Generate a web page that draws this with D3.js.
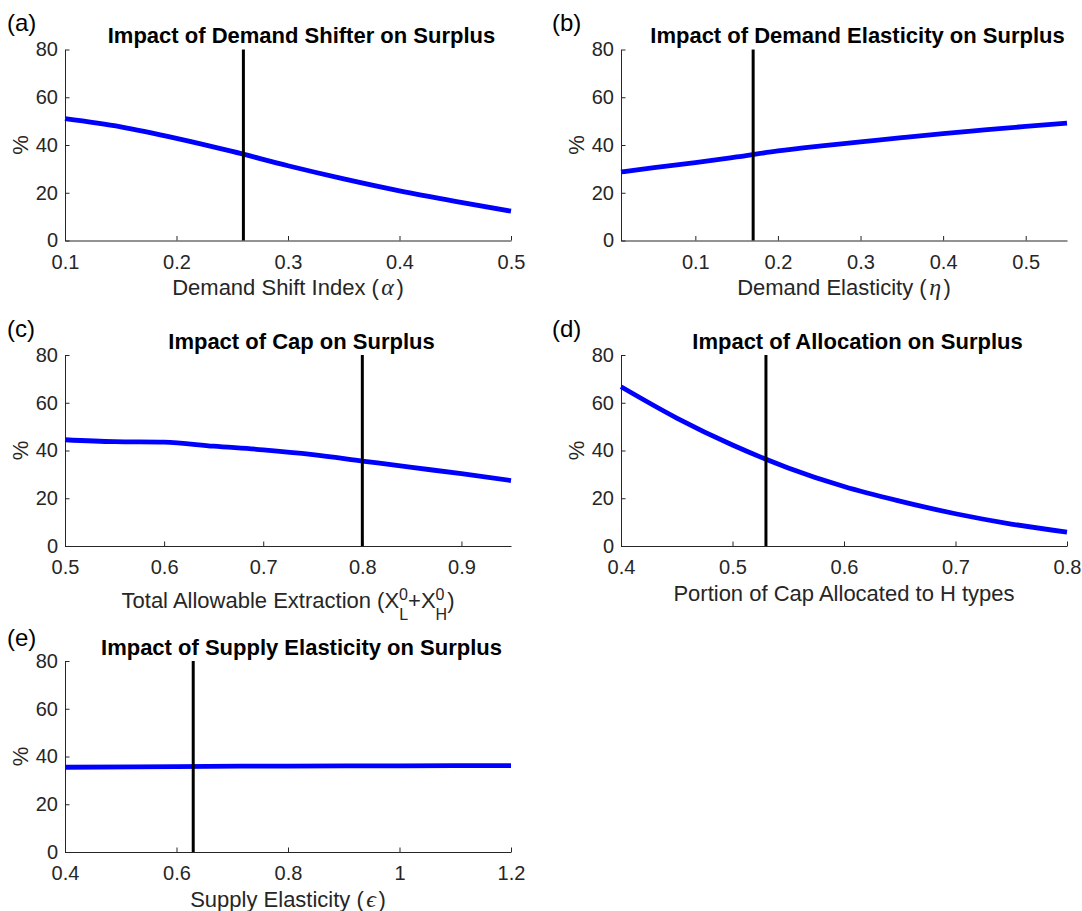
<!DOCTYPE html>
<html lang="en">
<head>
<meta charset="UTF-8">
<title>Impact on Surplus</title>
<script src="https://d3js.org/d3.v7.min.js"></script>
<style>
  body { margin: 0; background: #fff; }
  svg { display: block; font-family: "Liberation Sans", Arial, Helvetica, sans-serif; }
</style>
</head>
<body>
<svg id="chart" width="1082" height="911"></svg>
<script>
// (a) demand shifter
const shiftX = [0.1, 0.15, 0.2, 0.25, 0.3, 0.35, 0.4, 0.45, 0.5];
const shiftY = [51.0, 47.6, 42.8, 37.3, 31.3, 25.8, 20.8, 16.4, 12.3];
const shiftTicks = [0.1, 0.2, 0.3, 0.4, 0.5];
const shiftDomain = [0.1, 0.5];
const shiftBase = 0.26;

// (b) demand elasticity
const elastX = [0.01, 0.05, 0.1, 0.15, 0.2, 0.25, 0.3, 0.35, 0.4, 0.45, 0.5, 0.55];
const elastY = [28.7, 30.5, 32.6, 35.0, 37.5, 39.5, 41.3, 43.1, 44.8, 46.3, 47.8, 49.2];
const elastTicks = [0.1, 0.2, 0.3, 0.4, 0.5];
const elastDomain = [0.01, 0.55];
const elastBase = 0.17;

// (c) cap
const capX = [0.5, 0.55, 0.6, 0.65, 0.7, 0.75, 0.8, 0.85, 0.9, 0.95];
const capY = [44.5, 43.7, 43.5, 41.8, 40.3, 38.3, 35.6, 32.9, 30.3, 27.4];
const capTicks = [0.5, 0.6, 0.7, 0.8, 0.9];
const capDomain = [0.5, 0.95];
const capBase = 0.8;

// (d) allocation
const allocX = [0.4, 0.45, 0.5, 0.55, 0.6, 0.65, 0.7, 0.75, 0.8];
const allocY = [66.7, 53.6, 42.3, 32.7, 24.9, 18.8, 13.5, 9.2, 5.8];
const allocTicks = [0.4, 0.5, 0.6, 0.7, 0.8];
const allocDomain = [0.4, 0.8];
const allocBase = 0.53;

// (e) supply elasticity
const supX = [0.4, 0.6, 0.8, 1.0, 1.2];
const supY = [35.5, 35.8, 36.0, 36.1, 36.2];
const supTicks = [0.4, 0.6, 0.8, 1, 1.2];
const supDomain = [0.4, 1.2];
const supBase = 0.63;

const yTicks = [0, 20, 40, 60, 80];
const yDomain = [0, 80];

const panels = [
  { tag: "(a)", col: 0, row: 0, title: "Impact of Demand Shifter on Surplus",
    xs: shiftX, ys: shiftY, ticks: shiftTicks, domain: shiftDomain, base: shiftBase,
    xlabel: [{ t: "Demand Shift Index (" }, { t: "α", greek: true }, { t: ")" }] },
  { tag: "(b)", col: 1, row: 0, title: "Impact of Demand Elasticity on Surplus",
    xs: elastX, ys: elastY, ticks: elastTicks, domain: elastDomain, base: elastBase,
    xlabel: [{ t: "Demand Elasticity (" }, { t: "η", greek: true }, { t: ")" }] },
  { tag: "(c)", col: 0, row: 1, title: "Impact of Cap on Surplus",
    xs: capX, ys: capY, ticks: capTicks, domain: capDomain, base: capBase, scripts: true,
    xlabel: [{ t: "Total Allowable Extraction (X" }, { t: "0", sup: true }, { t: "L", sub: true },
             { t: "+X" }, { t: "0", sup: true }, { t: "H", sub: true }, { t: ")" }] },
  { tag: "(d)", col: 1, row: 1, title: "Impact of Allocation on Surplus",
    xs: allocX, ys: allocY, ticks: allocTicks, domain: allocDomain, base: allocBase,
    xlabel: [{ t: "Portion of Cap Allocated to H types" }] },
  { tag: "(e)", col: 0, row: 2, title: "Impact of Supply Elasticity on Surplus",
    xs: supX, ys: supY, ticks: supTicks, domain: supDomain, base: supBase,
    xlabel: [{ t: "Supply Elasticity (" }, { t: "ϵ", greek: true }, { t: ")" }] }
];

// layout
const colLeft = [65, 621];
const rowTop = [49.5, 355, 661];
const tagBase = [31, 336.5, 645.5];
const tagX = [7, 552];
const W = 446, H = 191;
const axisColor = "#262626";

const svg = d3.select("#chart");

panels.forEach(p => {
  const left = colLeft[p.col], top = rowTop[p.row];
  const g = svg.append("g").attr("transform", `translate(${left},${top})`);

  const x = d3.scaleLinear().domain(p.domain).range([0, W]);
  const y = d3.scaleLinear().domain(yDomain).range([H, 0]);

  const xAxis = g.append("g")
    .attr("transform", `translate(0,${H})`)
    .call(d3.axisBottom(x).tickValues(p.ticks).tickFormat(d3.format("~g"))
      .tickSizeInner(-4.5).tickSizeOuter(0).tickPadding(13.8));

  const yAxis = g.append("g")
    .call(d3.axisLeft(y).tickValues(yTicks)
      .tickSizeInner(-4.5).tickSizeOuter(0).tickPadding(7));

  [xAxis, yAxis].forEach(a => {
    a.attr("font-family", null).attr("font-size", 20);
    a.select(".domain").attr("stroke", axisColor).attr("stroke-width", 1);
    a.selectAll(".tick line").attr("stroke", axisColor);
    a.selectAll(".tick text").attr("fill", axisColor);
  });

  // curve
  const line = d3.line()
    .x((d, i) => x(p.xs[i]))
    .y(d => y(d))
    .curve(d3.curveMonotoneX);

  g.append("path")
    .attr("d", line(p.ys))
    .attr("fill", "none")
    .attr("stroke", "#0000ff")
    .attr("stroke-width", 4.8);

  // baseline marker
  g.append("line")
    .attr("x1", x(p.base)).attr("x2", x(p.base))
    .attr("y1", y(yDomain[0])).attr("y2", y(yDomain[1]))
    .attr("stroke", "#000")
    .attr("stroke-width", 3);

  // title
  g.append("text")
    .attr("x", W / 2 + 13.5)
    .attr("y", -6.5)
    .attr("text-anchor", "middle")
    .attr("font-weight", "bold")
    .attr("font-size", 22)
    .attr("fill", "#000")
    .text(p.title);

  // y label
  g.append("text")
    .attr("transform", `translate(-37.5,${H / 2}) rotate(-90)`)
    .attr("text-anchor", "middle")
    .attr("font-size", 22)
    .attr("fill", axisColor)
    .text("%");

  // x label
  const xl = g.append("text")
    .attr("x", W / 2)
    .attr("y", H + (p.scripts ? 62 : 54.5))
    .attr("text-anchor", "middle")
    .attr("font-size", 22)
    .attr("fill", axisColor);

  let shift = 0;
  let afterGreek = false;
  p.xlabel.forEach(s => {
    const ts = xl.append("tspan").text(s.t);
    if (s.greek) {
      ts.attr("font-family", "'Liberation Serif', 'DejaVu Serif', serif")
        .attr("font-style", "italic")
        .attr("font-size", 24)
        .attr("dx", 2.5);
      afterGreek = true;
      return;
    }
    if (afterGreek) {
      ts.attr("dx", 2.5);
      afterGreek = false;
    }
    if (s.sup) {
      ts.attr("font-size", 16).attr("dy", -8.5 - shift);
      shift = -8.5;
    } else if (s.sub) {
      ts.attr("font-size", 16).attr("dx", -8.9).attr("dy", 12 - shift);
      shift = 12;
    } else if (shift !== 0) {
      ts.attr("dy", -shift);
      shift = 0;
    }
  });

  // panel tag
  svg.append("text")
    .attr("x", tagX[p.col])
    .attr("y", tagBase[p.row])
    .attr("font-size", 24)
    .attr("fill", "#000")
    .text(p.tag);
});
</script>
</body>
</html>
